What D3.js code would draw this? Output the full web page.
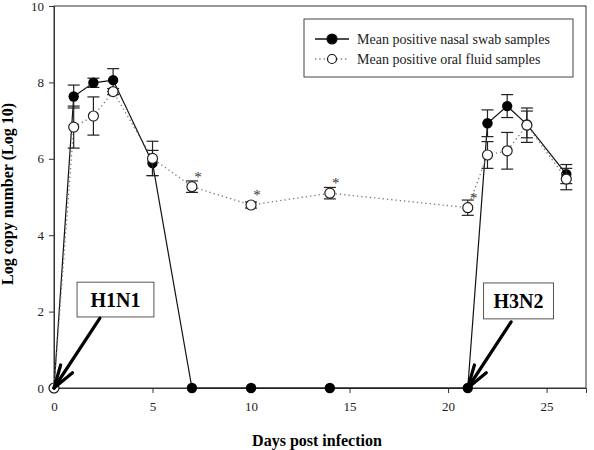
<!DOCTYPE html>
<html>
<head>
<meta charset="utf-8">
<style>
body { margin: 0; background: #fff; }
svg { font-family: "Liberation Serif", "Times New Roman", serif; }
</style>
</head>
<body>
<div id="chart"></div>
<script src="https://d3js.org/d3.v7.min.js"></script>
<script>

// data
var days = [0, 1, 2, 3, 5, 7, 10, 14, 21, 22, 23, 24, 26];
var nasal = [0, 7.63, 7.99, 8.06, 5.89, 0, 0, 0, 0, 6.93, 7.38, 6.90, 5.60];
var nasalErr = [0, 0.3, 0.12, 0.3, 0.33, 0, 0, 0, 0, 0.35, 0.3, 0.35, 0.25];
var oral = [0, 6.83, 7.12, 7.76, 6.01, 5.27, 4.79, 5.10, 4.72, 6.10, 6.21, 6.88, 5.47];
var oralErr = [0, 0.55, 0.5, 0.08, 0.45, 0.15, 0.08, 0.15, 0.2, 0.35, 0.48, 0.45, 0.28];
var starDays = [7, 10, 14, 21];
var xTicks = [0, 5, 10, 15, 20, 25];
var yTicks = [0, 2, 4, 6, 8, 10];
var legendLabels = ["Mean positive nasal swab samples", "Mean positive oral fluid samples"];
var strains = ["H1N1", "H3N2"];
var boxX = [[1.17, 5.07], [21.8, 25.35]];
var boxY = [[2.77, 1.86], [2.75, 1.81]];
var arrowFrom = [[2.33, 1.83], [23.2, 1.73]];
var arrowTo = [[0, 0], [21, 0]];

var margin = {top: 6, right: 8, bottom: 62, left: 54},
    width = 594 - margin.left - margin.right,
    height = 450 - margin.top - margin.bottom;

var x = d3.scaleLinear().domain([0, 27]).range([0, width]);
var y = d3.scaleLinear().domain([0, 10]).range([height, 0]);

var svg = d3.select("#chart").append("svg")
    .attr("width", 594)
    .attr("height", 450)
  .append("g")
    .attr("transform", "translate(" + margin.left + "," + margin.top + ")");

// frame
svg.append("rect")
    .attr("width", width).attr("height", height)
    .attr("fill", "none").attr("stroke", "#333").attr("stroke-width", 1);

// axes
var xAxis = svg.append("g")
    .attr("transform", "translate(0," + height + ")")
    .call(d3.axisBottom(x).tickValues(xTicks).tickSize(5).tickPadding(9));
var yAxis = svg.append("g")
    .call(d3.axisLeft(y).tickValues(yTicks).tickSize(5).tickPadding(5));
[xAxis, yAxis].forEach(function(a) {
  a.select(".domain").attr("stroke", "#333");
  a.selectAll("line").attr("stroke", "#333");
  a.selectAll("text").attr("font-size", 13).attr("fill", "#222")
    .attr("font-family", "Liberation Serif, serif");
});

svg.append("text")
    .attr("x", width / 2 - 3).attr("y", height + 58)
    .attr("text-anchor", "middle")
    .attr("font-size", 16).attr("font-weight", "bold")
    .text("Days post infection");

svg.append("text")
    .attr("transform", "translate(-41," + (height / 2 - 3) + ") rotate(-90)")
    .attr("text-anchor", "middle")
    .attr("font-size", 16).attr("font-weight", "bold")
    .text("Log copy number (Log 10)");

var nasalData = days.map(function(d, i) { return {x: d, y: nasal[i], e: nasalErr[i]}; });
var oralData = days.map(function(d, i) { return {x: d, y: oral[i], e: oralErr[i]}; });

var line = d3.line().x(function(d) { return x(d.x); }).y(function(d) { return y(d.y); });

function errorBars(data) {
  var g = svg.append("g").attr("stroke", "#222").attr("stroke-width", 1.2);
  data.filter(function(d) { return d.e > 0; }).forEach(function(d) {
    var cx = x(d.x);
    g.append("line").attr("x1", cx).attr("x2", cx).attr("y1", y(d.y - d.e)).attr("y2", y(d.y + d.e));
    [d.y - d.e, d.y + d.e].forEach(function(v) {
      g.append("line").attr("x1", cx - 6).attr("x2", cx + 6).attr("y1", y(v)).attr("y2", y(v));
    });
  });
}

// nasal series
svg.append("path").datum(nasalData)
    .attr("d", line).attr("fill", "none").attr("stroke", "#111").attr("stroke-width", 1.2);
errorBars(nasalData);
svg.selectAll(".nasal").data(nasalData).enter().append("circle")
    .attr("cx", function(d) { return x(d.x); })
    .attr("cy", function(d) { return y(d.y); })
    .attr("r", 5.2).attr("fill", "#000");

// oral series
svg.append("path").datum(oralData)
    .attr("d", line).attr("fill", "none").attr("stroke", "#777")
    .attr("stroke-width", 1.3).attr("stroke-dasharray", "1.3,3");
errorBars(oralData);
svg.selectAll(".oral").data(oralData).enter().append("circle")
    .attr("cx", function(d) { return x(d.x); })
    .attr("cy", function(d) { return y(d.y); })
    .attr("r", 5).attr("fill", "#fff").attr("stroke", "#222").attr("stroke-width", 1.2);

// significance stars
svg.selectAll(".star").data(starDays).enter().append("text")
    .attr("x", function(d) { return x(d) + 6; })
    .attr("y", function(d) { return y(oral[days.indexOf(d)]) - 5; })
    .attr("text-anchor", "middle").attr("font-size", 15).attr("fill", "#333")
    .text("*");

// strain annotations
strains.forEach(function(s, i) {
  var x0 = x(boxX[i][0]), x1 = x(boxX[i][1]), y0 = y(boxY[i][0]), y1 = y(boxY[i][1]);
  svg.append("rect").attr("x", x0).attr("y", y0).attr("width", x1 - x0).attr("height", y1 - y0)
      .attr("fill", "#fff").attr("stroke", "#555").attr("stroke-width", 1);
  svg.append("text").attr("x", (x0 + x1) / 2).attr("y", (y0 + y1) / 2 + 7)
      .attr("text-anchor", "middle").attr("font-size", 20).attr("font-weight", "bold")
      .text(s);
  var ax = x(arrowFrom[i][0]), ay = y(arrowFrom[i][1]), bx = x(arrowTo[i][0]), by = y(arrowTo[i][1]);
  var ang = Math.atan2(ay - by, ax - bx);
  var g = svg.append("g").attr("stroke", "#000").attr("stroke-width", 3.2).attr("stroke-linecap", "round");
  g.append("line").attr("x1", ax).attr("y1", ay).attr("x2", bx).attr("y2", by);
  [-0.3, 0.3].forEach(function(da) {
    g.append("line").attr("x1", bx).attr("y1", by)
        .attr("x2", bx + 24 * Math.cos(ang + da)).attr("y2", by + 24 * Math.sin(ang + da));
  });
});

// legend
var lg = svg.append("g").attr("transform", "translate(" + (304 - margin.left) + "," + (19 - margin.top) + ")");
lg.append("rect").attr("width", 269).attr("height", 58)
    .attr("fill", "#fff").attr("stroke", "#444").attr("stroke-width", 1);
legendLabels.forEach(function(t, i) {
  var cy = 20 + i * 20;
  lg.append("line").attr("x1", 11).attr("x2", 45).attr("y1", cy).attr("y2", cy)
      .attr("stroke", i ? "#777" : "#111").attr("stroke-width", 1.3)
      .attr("stroke-dasharray", i ? "1.3,3" : null);
  lg.append("circle").attr("cx", 28).attr("cy", cy).attr("r", i ? 4.5 : 5)
      .attr("fill", i ? "#fff" : "#000").attr("stroke", "#111").attr("stroke-width", 1.2);
  lg.append("text").attr("x", 53).attr("y", cy + 5).attr("font-size", 14).attr("fill", "#222").text(t);
});

</script>
</body>
</html>
